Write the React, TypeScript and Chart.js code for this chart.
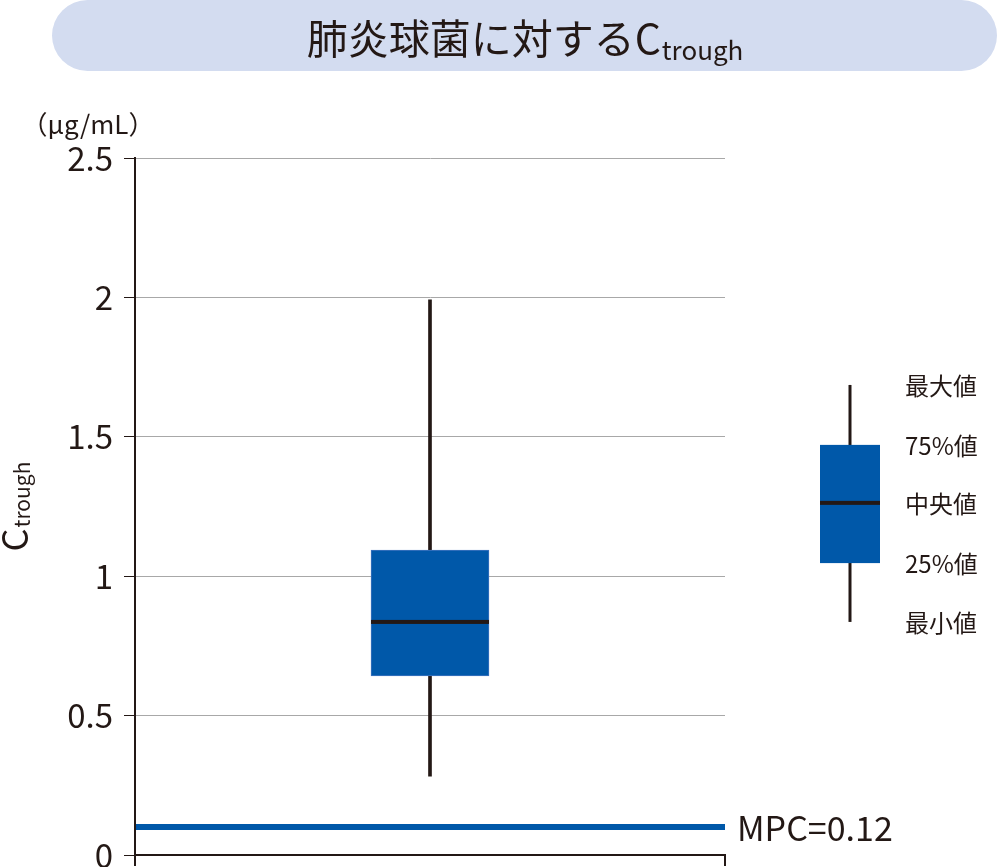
import React, { useEffect, useRef } from 'react';
import { Chart, registerables } from 'chart.js';

Chart.register(...registerables);

// ---- data ----
const categories = ['肺炎球菌'];
const minValues = [0.283];
const q1Values = [0.642];
const medianValues = [0.836];
const q3Values = [1.094];
const maxValues = [1.991];
const yTickValues = [0, 0.5, 1, 1.5, 2, 2.5];
const mpcValue = 0.1;
const mpcLabel = 'MPC=0.12';
const titleMain = '肺炎球菌に対するC';
const titleSub = 'trough';
const unitLabel = '（μg/mL）';
const yTitleMain = 'C';
const yTitleSub = 'trough';
const legendLabels = ['最大値', '75%値', '中央値', '25%値', '最小値'];
const legendValues = [1.686, 1.471, 1.263, 1.047, 0.836];

const FONT = '"Noto Sans CJK JP", "Noto Sans", sans-serif';
const DARK = '#231815';
const BLUE = '#0058a9';

const customPlugin = {
  id: 'customDraw',
  beforeDraw(chart: any) {
    const ctx = chart.ctx;
    ctx.save();
    // title pill
    const x0 = 52, x1 = 997, y0 = 0, y1 = 71;
    const r = (y1 - y0) / 2;
    ctx.fillStyle = '#d3dcf0';
    ctx.beginPath();
    ctx.moveTo(x0 + r, y0);
    ctx.lineTo(x1 - r, y0);
    ctx.arc(x1 - r, y0 + r, r, -Math.PI / 2, Math.PI / 2);
    ctx.lineTo(x0 + r, y1);
    ctx.arc(x0 + r, y0 + r, r, Math.PI / 2, Math.PI * 1.5);
    ctx.closePath();
    ctx.fill();
    // title text
    ctx.fillStyle = DARK;
    ctx.textBaseline = 'alphabetic';
    ctx.textAlign = 'left';
    ctx.font = `41px ${FONT}`;
    const wMain = ctx.measureText(titleMain).width;
    ctx.font = `26px ${FONT}`;
    const wSub = ctx.measureText(titleSub).width;
    const cx = (x0 + x1) / 2;
    const start = cx - (wMain + wSub) / 2;
    ctx.font = `41px ${FONT}`;
    ctx.fillText(titleMain, start, 54);
    ctx.font = `26px ${FONT}`;
    ctx.fillText(titleSub, start + wMain + 1, 60);
    ctx.restore();
  },
  afterDatasetsDraw(chart: any) {
    const ctx = chart.ctx;
    const yScale = chart.scales.y;
    const area = chart.chartArea;
    ctx.save();

    // medians
    const meta = chart.getDatasetMeta(1);
    meta.data.forEach((bar: any, i: number) => {
      const p = bar.getProps(['x', 'width'], true);
      const y = yScale.getPixelForValue(medianValues[i]);
      ctx.fillStyle = DARK;
      ctx.fillRect(p.x - p.width / 2, y - 2, p.width, 4);
    });

    // MPC line
    const my = yScale.getPixelForValue(mpcValue);
    ctx.strokeStyle = BLUE;
    ctx.lineWidth = 6;
    ctx.beginPath();
    ctx.moveTo(area.left + 1, my);
    ctx.lineTo(area.right, my);
    ctx.stroke();
    ctx.fillStyle = DARK;
    ctx.font = `34px ${FONT}`;
    ctx.textAlign = 'left';
    ctx.textBaseline = 'middle';
    ctx.fillText(mpcLabel, area.right + 12, my + 1);

    // legend box diagram
    const lx = area.right + 125;
    const lw = 60;
    const pMax = yScale.getPixelForValue(legendValues[0]);
    const pQ3 = yScale.getPixelForValue(legendValues[1]);
    const pMed = yScale.getPixelForValue(legendValues[2]);
    const pQ1 = yScale.getPixelForValue(legendValues[3]);
    const pMin = yScale.getPixelForValue(legendValues[4]);
    ctx.strokeStyle = DARK;
    ctx.lineWidth = 3;
    ctx.beginPath();
    ctx.moveTo(lx, pMax);
    ctx.lineTo(lx, pMin);
    ctx.stroke();
    ctx.fillStyle = BLUE;
    ctx.fillRect(lx - lw / 2, pQ3, lw, pQ1 - pQ3);
    ctx.fillStyle = DARK;
    ctx.fillRect(lx - lw / 2, pMed - 2, lw, 4);
    ctx.font = `24px ${FONT}`;
    ctx.textAlign = 'left';
    ctx.textBaseline = 'middle';
    legendLabels.forEach((lab, i) => {
      ctx.fillText(lab, area.right + 180, yScale.getPixelForValue(legendValues[i]) + 1);
    });

    // unit label
    ctx.font = `26px ${FONT}`;
    ctx.textAlign = 'center';
    ctx.textBaseline = 'middle';
    ctx.fillText(unitLabel, 88, 124);

    // y axis title (rotated)
    ctx.save();
    ctx.translate(28, 507);
    ctx.rotate(-Math.PI / 2);
    ctx.textAlign = 'left';
    ctx.textBaseline = 'alphabetic';
    ctx.font = `36px ${FONT}`;
    const wc = ctx.measureText(yTitleMain).width;
    ctx.font = `21px ${FONT}`;
    const wt = ctx.measureText(yTitleSub).width;
    const s = -(wc + wt) / 2;
    ctx.font = `36px ${FONT}`;
    ctx.fillText(yTitleMain, s, 0);
    ctx.font = `21px ${FONT}`;
    ctx.fillText(yTitleSub, s + wc + 1, 2);
    ctx.restore();

    ctx.restore();
  },
};

export default function App() {
  const ref = useRef<HTMLCanvasElement | null>(null);
  useEffect(() => {
    if (!ref.current) return;
    const chart = new Chart(ref.current, {
      type: 'bar',
      data: {
        labels: categories,
        datasets: [
          {
            label: 'whisker',
            data: minValues.map((v, i) => [v, maxValues[i]]) as any,
            backgroundColor: DARK,
            barThickness: 3,
            grouped: false,
            order: 2,
          } as any,
          {
            label: 'box',
            data: q1Values.map((v, i) => [v, q3Values[i]]) as any,
            backgroundColor: BLUE,
            borderColor: '#3f74c0',
            borderWidth: 1,
            borderSkipped: false,
            barThickness: 118,
            grouped: false,
            order: 1,
          } as any,
        ],
      },
      options: {
        responsive: false,
        devicePixelRatio: 1,
        animation: false,
        events: [],
        layout: { padding: { left: 0, top: 158, right: 272, bottom: 0 } },
        plugins: {
          legend: { display: false },
          tooltip: { enabled: false },
          title: { display: false },
        },
        scales: {
          x: {
            type: 'category',
            offset: true,
            ticks: { display: false },
            grid: {
              offset: true,
              drawOnChartArea: false,
              drawTicks: true,
              tickLength: 11,
              color: DARK,
              tickColor: DARK,
              lineWidth: 2,
            },
            border: { display: true, color: DARK, width: 2 },
            afterFit: (scale: any) => {
              scale.height = 12;
            },
          },
          y: {
            type: 'linear',
            min: 0,
            max: 2.5,
            afterBuildTicks: (scale: any) => {
              scale.ticks = yTickValues.map((v) => ({ value: v }));
            },
            ticks: {
              color: DARK,
              padding: 11,
              font: { family: FONT, size: 33, lineHeight: 0.01 },
              callback: (v: any) => String(v),
            },
            grid: {
              color: (c: any) => (c.tick && c.tick.value === 0 ? DARK : '#a8a8a8'),
              tickColor: DARK,
              tickLength: 11,
              lineWidth: 1,
            },
            border: { display: true, color: DARK, width: 2 },
            afterFit: (scale: any) => {
              scale.width = 135;
            },
          },
        },
      },
      plugins: [customPlugin],
    });
    return () => chart.destroy();
  }, []);
  return (
    <div style={{ position: 'absolute', left: 0, top: 0, width: 997, height: 867, background: '#fff' }}>
      <canvas ref={ref} width={997} height={867} style={{ width: 997, height: 867, display: 'block' }} />
    </div>
  );
}
